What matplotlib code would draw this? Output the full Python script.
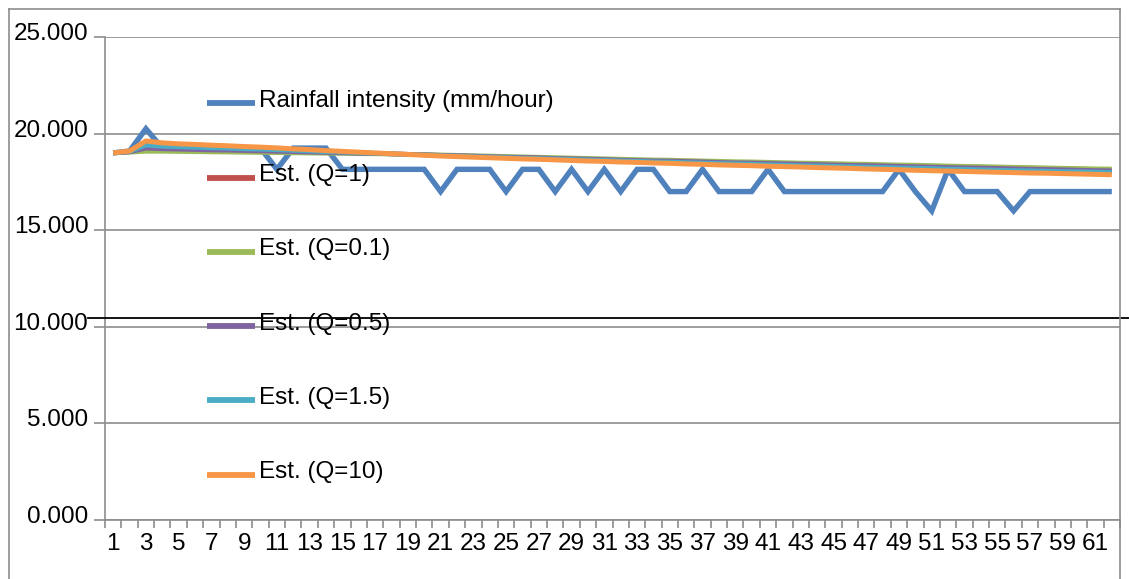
import matplotlib
matplotlib.use("Agg")
import matplotlib.pyplot as plt
from matplotlib.lines import Line2D
from matplotlib.transforms import ScaledTranslation

plt.rcParams['font.family'] = ['Liberation Sans', 'DejaVu Sans']

categories = list(range(1, 63))

rainfall = [19.0, 19.1, 20.25, 19.25, 19.25, 19.25, 19.25, 19.25, 19.25, 19.25,
            18.15, 19.25, 19.25, 19.25, 18.15, 18.15, 18.15, 18.15, 18.15, 18.15,
            17.0, 18.15, 18.15, 18.15, 17.0, 18.15, 18.15, 17.0, 18.15, 17.0,
            18.15, 17.0, 18.15, 18.15, 17.0, 17.0, 18.15, 17.0, 17.0, 17.0,
            18.15, 17.0, 17.0, 17.0, 17.0, 17.0, 17.0, 17.0, 18.15, 17.0,
            16.0, 18.15, 17.0, 17.0, 17.0, 16.0, 17.0, 17.0, 17.0, 17.0,
            17.0, 17.0]

est_q1 = [19.00, 19.06, 19.32, 19.28, 19.25, 19.23, 19.21, 19.19, 19.17, 19.15,
          19.12, 19.09, 19.07, 19.04, 19.02, 19.00, 18.97, 18.95, 18.93, 18.90,
          18.87, 18.85, 18.82, 18.80, 18.78, 18.75, 18.73, 18.71, 18.68, 18.66,
          18.64, 18.61, 18.59, 18.57, 18.55, 18.53, 18.51, 18.48, 18.46, 18.45,
          18.43, 18.41, 18.39, 18.37, 18.35, 18.33, 18.31, 18.29, 18.27, 18.25,
          18.23, 18.21, 18.19, 18.17, 18.15, 18.13, 18.12, 18.10, 18.08, 18.07,
          18.05, 18.03]

est_q01 = [19.00, 19.03, 19.08, 19.08, 19.07, 19.06, 19.05, 19.04, 19.03, 19.02,
           19.01, 19.00, 18.99, 18.98, 18.97, 18.96, 18.95, 18.94, 18.93, 18.92,
           18.90, 18.88, 18.86, 18.84, 18.82, 18.80, 18.78, 18.76, 18.74, 18.72,
           18.70, 18.68, 18.66, 18.64, 18.63, 18.61, 18.59, 18.57, 18.55, 18.54,
           18.52, 18.50, 18.48, 18.47, 18.45, 18.43, 18.42, 18.40, 18.38, 18.37,
           18.35, 18.33, 18.31, 18.30, 18.28, 18.26, 18.25, 18.23, 18.21, 18.20,
           18.18, 18.17]

est_q05 = [19.00, 19.05, 19.24, 19.21, 19.19, 19.17, 19.15, 19.14, 19.12, 19.10,
           19.08, 19.06, 19.04, 19.02, 19.00, 18.98, 18.97, 18.95, 18.93, 18.91,
           18.88, 18.86, 18.84, 18.81, 18.79, 18.77, 18.75, 18.72, 18.70, 18.68,
           18.66, 18.63, 18.61, 18.59, 18.58, 18.56, 18.54, 18.51, 18.49, 18.48,
           18.46, 18.44, 18.42, 18.40, 18.38, 18.36, 18.35, 18.33, 18.31, 18.29,
           18.27, 18.25, 18.23, 18.22, 18.20, 18.18, 18.16, 18.15, 18.13, 18.11,
           18.09, 18.08]

est_q15 = [19.00, 19.07, 19.40, 19.34, 19.31, 19.29, 19.26, 19.24, 19.21, 19.19,
           19.16, 19.13, 19.10, 19.06, 19.04, 19.01, 18.98, 18.95, 18.92, 18.90,
           18.86, 18.84, 18.81, 18.79, 18.76, 18.73, 18.71, 18.69, 18.66, 18.64,
           18.62, 18.59, 18.57, 18.54, 18.53, 18.50, 18.48, 18.46, 18.44, 18.42,
           18.39, 18.37, 18.35, 18.33, 18.31, 18.29, 18.27, 18.25, 18.23, 18.21,
           18.19, 18.17, 18.15, 18.13, 18.11, 18.09, 18.08, 18.06, 18.04, 18.03,
           18.01, 17.99]

est_q10 = [19.00, 19.10, 19.62, 19.52, 19.47, 19.44, 19.40, 19.37, 19.33, 19.30,
           19.26, 19.21, 19.17, 19.12, 19.08, 19.04, 19.00, 18.96, 18.92, 18.88,
           18.84, 18.81, 18.78, 18.75, 18.72, 18.69, 18.67, 18.64, 18.61, 18.58,
           18.56, 18.53, 18.51, 18.48, 18.46, 18.43, 18.41, 18.38, 18.36, 18.34,
           18.31, 18.29, 18.27, 18.24, 18.22, 18.20, 18.17, 18.15, 18.13, 18.10,
           18.08, 18.06, 18.04, 18.02, 18.00, 17.98, 17.96, 17.95, 17.93, 17.91,
           17.89, 17.87]

series_labels = ["Rainfall intensity (mm/hour)", "Est. (Q=1)", "Est. (Q=0.1)",
                 "Est. (Q=0.5)", "Est. (Q=1.5)", "Est. (Q=10)"]
series_values = [rainfall, est_q1, est_q01, est_q05, est_q15, est_q10]
series_colors = ["#4F81BD", "#C0504D", "#9BBB59", "#8064A2", "#4BACC6", "#F79646"]
series_widths = [3.9, 3.3, 3.3, 3.3, 3.3, 3.6]

y_ticks = [0, 5, 10, 15, 20, 25]

W, H = 1129, 579
fig = plt.figure(figsize=(W / 100, H / 100), dpi=100)
fig.patch.set_facecolor("white")

ax = fig.add_axes([105 / W, 1 - 520 / H, (1120 - 105) / W, (520 - 37) / H])

handles = []
for vals, lab, col, lw in zip(series_values, series_labels, series_colors, series_widths):
    h, = ax.plot(categories, vals, color=col, lw=lw, solid_joinstyle="miter",
                 solid_capstyle="butt", label=lab, zorder=3)
    handles.append(h)

ax.set_xlim(0.5, len(categories) + 0.5)
ax.set_ylim(0, 25)
ax.set_yticks(y_ticks)
ax.set_yticklabels([f"{v:.3f}" for v in y_ticks])
ax.grid(axis="y", color="#8c8c8c", lw=1.2, zorder=1)
ax.set_axisbelow(True)

odd = categories[::2]
ax.set_xticks(odd)
ax.set_xticklabels([str(c) for c in odd])
ax.set_xticks([c + 0.5 for c in [0] + categories], minor=True)
ax.tick_params(axis="x", which="major", length=0, pad=9, labelsize=17.5)
ax.tick_params(axis="x", which="minor", length=6, width=1.2, color="#8c8c8c", direction="out")
ax.tick_params(axis="y", length=8, width=1.2, color="#8c8c8c", pad=4, labelsize=17.5)

for s in ["top", "right"]:
    ax.spines[s].set_visible(False)
for s in ["left", "bottom"]:
    ax.spines[s].set_color("#8c8c8c")
    ax.spines[s].set_linewidth(1.2)

off = ScaledTranslation(0, 4 / 72, fig.dpi_scale_trans)
for lab in ax.get_yticklabels():
    lab.set_transform(lab.get_transform() + off)

leg = ax.legend(handles=handles, loc="upper left",
                bbox_to_anchor=(92 / (1120 - 105), 1 - 48 / (520 - 37)),
                frameon=False, fontsize=17.5, handlelength=2.0, handletextpad=0.15,
                labelspacing=2.15, borderaxespad=0)
for lh in leg.get_lines():
    lh.set_linewidth(4.2)
for t in leg.get_texts():
    t.set_y(5)
leg.set_zorder(5)

# stray black line at the 10 level and the chart border
fig.add_artist(Line2D([88 / W, 1.0], [1 - 318 / H, 1 - 318 / H], color="black", lw=1.3))
fig.add_artist(Line2D([9 / W, 9 / W], [0, 1 - 9 / H], color="#8c8c8c", lw=1.2))
fig.add_artist(Line2D([9 / W, 1120 / W], [1 - 9 / H, 1 - 9 / H], color="#8c8c8c", lw=1.2))
fig.add_artist(Line2D([1120 / W, 1120 / W], [0, 1 - 9 / H], color="#8c8c8c", lw=1.2))

fig.savefig("out.png", dpi=100, facecolor="white")
